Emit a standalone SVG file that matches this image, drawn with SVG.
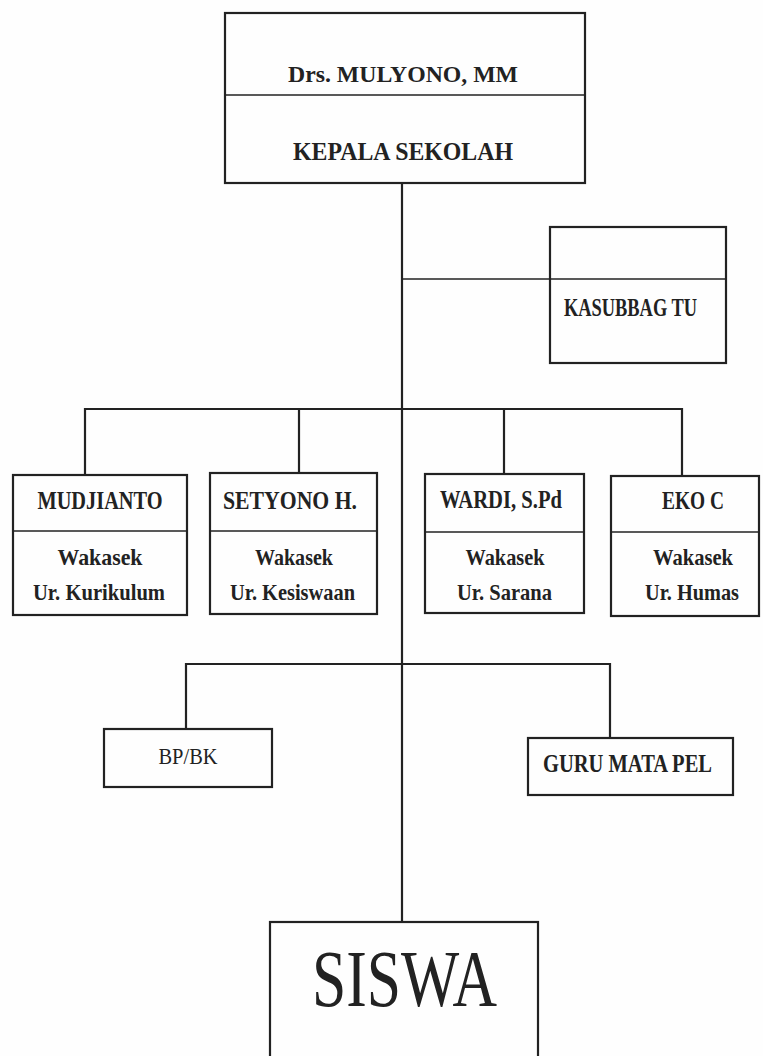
<svg xmlns="http://www.w3.org/2000/svg" width="763" height="1056" viewBox="0 0 763 1056">
<style>
.box{fill:none;stroke:#222;stroke-width:2.2}
.div{stroke:#222;stroke-width:1.3;fill:none}
.con{stroke:#222;stroke-width:2.2;fill:none}
.thin{stroke:#222;stroke-width:1.4;fill:none}
.b{font-family:"Liberation Serif","Times New Roman",serif;font-weight:bold;fill:#222;text-anchor:middle}
.r{font-family:"Liberation Serif","Times New Roman",serif;font-weight:normal;fill:#222;text-anchor:middle}
</style>
<rect width="763" height="1056" fill="#fefefe"/>
<g id="connectors">
<line class="con" x1="402" y1="183" x2="402" y2="922"/>
<line class="thin" x1="402" y1="279" x2="726" y2="279"/>
<polyline class="con" points="85,475 85,409 682,409 682,476"/>
<line class="con" x1="299" y1="409" x2="299" y2="473"/>
<line class="con" x1="504" y1="409" x2="504" y2="474"/>
<polyline class="con" points="186,729 186,664 610,664 610,738"/>
</g>
<g id="kepala">
<rect class="box" x="225" y="13" width="360" height="170"/>
<line class="div" x1="225" y1="95" x2="585" y2="95"/>
<text class="b" x="403" y="82" font-size="24" textLength="230" lengthAdjust="spacingAndGlyphs">Drs. MULYONO, MM</text>
<text class="b" x="403" y="160" font-size="25" textLength="220" lengthAdjust="spacingAndGlyphs">KEPALA SEKOLAH</text>
</g>
<g id="kasubbag">
<rect class="box" x="550" y="227" width="176" height="136"/>
<text class="b" x="630.5" y="316" font-size="25" textLength="133" lengthAdjust="spacingAndGlyphs">KASUBBAG TU</text>
</g>
<g id="mudjianto">
<rect class="box" x="13" y="475" width="174" height="140"/>
<line class="div" x1="13" y1="531" x2="187" y2="531"/>
<text class="b" x="100" y="509" font-size="25" textLength="125" lengthAdjust="spacingAndGlyphs">MUDJIANTO</text>
<text class="b" x="100" y="565" font-size="24" textLength="85" lengthAdjust="spacingAndGlyphs">Wakasek</text>
<text class="b" x="99" y="600" font-size="24" textLength="132" lengthAdjust="spacingAndGlyphs">Ur. Kurikulum</text>
</g>
<g id="setyono">
<rect class="box" x="210" y="473" width="167" height="141"/>
<line class="div" x1="210" y1="531" x2="377" y2="531"/>
<text class="b" x="290" y="509" font-size="25" textLength="134" lengthAdjust="spacingAndGlyphs">SETYONO H.</text>
<text class="b" x="294" y="565" font-size="24" textLength="78" lengthAdjust="spacingAndGlyphs">Wakasek</text>
<text class="b" x="292.5" y="600" font-size="24" textLength="125" lengthAdjust="spacingAndGlyphs">Ur. Kesiswaan</text>
</g>
<g id="wardi">
<rect class="box" x="425" y="474" width="159" height="139"/>
<line class="div" x1="425" y1="532" x2="584" y2="532"/>
<text class="b" x="501" y="508" font-size="25" textLength="122" lengthAdjust="spacingAndGlyphs">WARDI, S.Pd</text>
<text class="b" x="505" y="565" font-size="24" textLength="79" lengthAdjust="spacingAndGlyphs">Wakasek</text>
<text class="b" x="504.5" y="600" font-size="24" textLength="95" lengthAdjust="spacingAndGlyphs">Ur. Sarana</text>
</g>
<g id="eko">
<rect class="box" x="611" y="476" width="148" height="140"/>
<line class="div" x1="611" y1="532" x2="759" y2="532"/>
<text class="b" x="693" y="509" font-size="25" textLength="62" lengthAdjust="spacingAndGlyphs">EKO C</text>
<text class="b" x="693" y="565" font-size="24" textLength="80" lengthAdjust="spacingAndGlyphs">Wakasek</text>
<text class="b" x="692" y="600" font-size="24" textLength="94" lengthAdjust="spacingAndGlyphs">Ur. Humas</text>
</g>
<g id="bpbk">
<rect class="box" x="104" y="729" width="168" height="58"/>
<text class="r" x="188" y="764" font-size="23" textLength="59" lengthAdjust="spacingAndGlyphs">BP/BK</text>
</g>
<g id="guru">
<rect class="box" x="528" y="738" width="205" height="57"/>
<text class="b" x="627.5" y="772" font-size="26" textLength="169" lengthAdjust="spacingAndGlyphs">GURU MATA PEL</text>
</g>
<g id="siswa">
<rect class="box" x="270" y="922" width="268" height="150"/>
<text class="r" x="404.5" y="1006" font-size="80" textLength="185" lengthAdjust="spacingAndGlyphs">SISWA</text>
</g>
</svg>
